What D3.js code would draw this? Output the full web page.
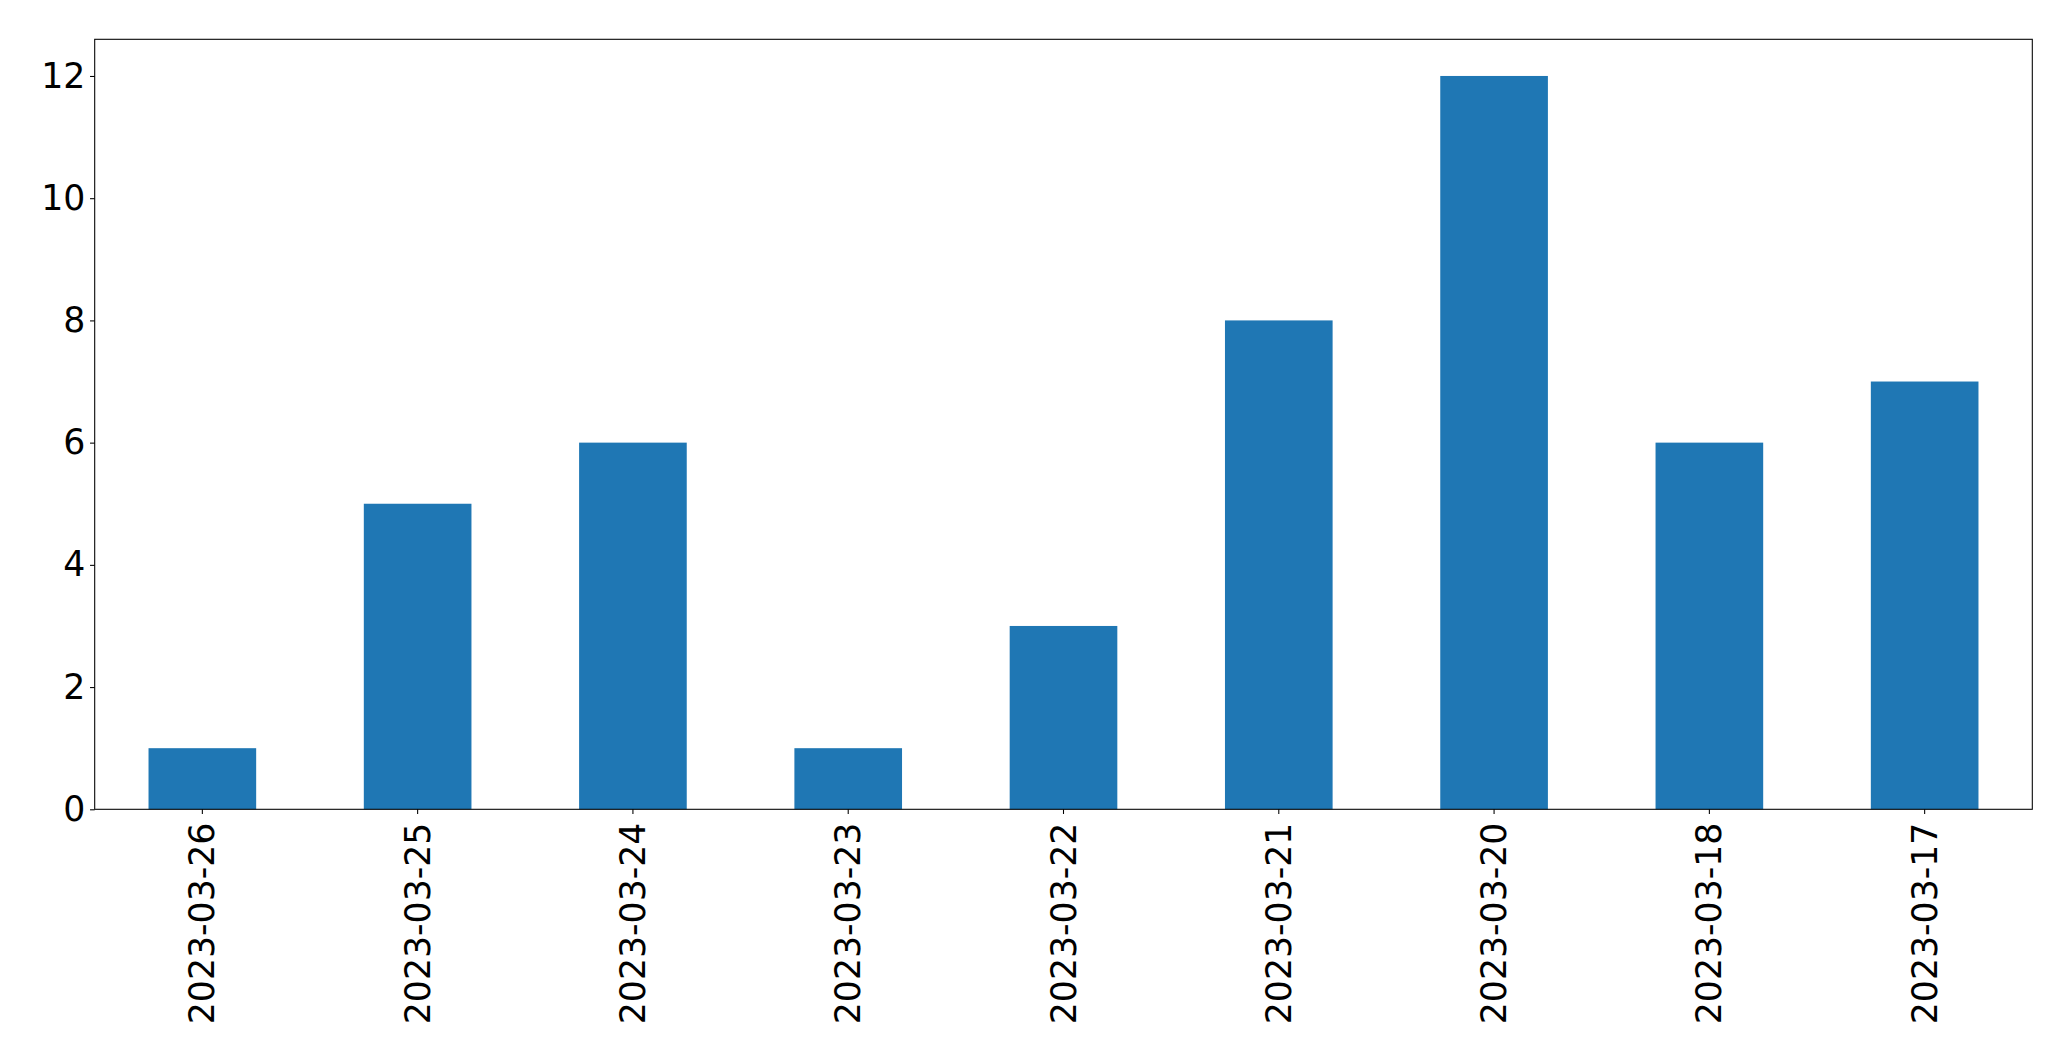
<!DOCTYPE html>
<html>
<head>
<meta charset="utf-8">
<script src="https://cdn.jsdelivr.net/npm/d3@7"></script>
<style>
  body { margin: 0; background: #fff; }
  svg { display: block; }
  text { font-family: "DejaVu Sans", sans-serif; }
</style>
</head>
<body>
<svg id="chart"></svg>
<script>
const dates = ["2023-03-26", "2023-03-25", "2023-03-24", "2023-03-23", "2023-03-22",
               "2023-03-21", "2023-03-20", "2023-03-18", "2023-03-17"];
const counts = [1, 5, 6, 1, 3, 8, 12, 6, 7];
const yTicks = [0, 2, 4, 6, 8, 10, 12];

const W = 2071, H = 1061;
const margin = { top: 39.3, right: 38.7, bottom: 251.7, left: 94.7 };
const fontSize = 34.7;
const tickLen = 4.67, tickPad = 4.67;

const svg = d3.select("#chart").attr("width", W).attr("height", H);

const x = d3.scaleBand()
    .domain(d3.range(dates.length))
    .range([margin.left, W - margin.right])
    .paddingInner(0.5)
    .paddingOuter(0.25);

const y = d3.scaleLinear()
    .domain([0, 12.6])
    .range([H - margin.bottom, margin.top]);

// bars
svg.append("g")
    .attr("fill", "#1f77b4")
    .selectAll("rect")
    .data(counts)
    .join("rect")
    .attr("x", (d, i) => x(i))
    .attr("y", d => y(d))
    .attr("width", x.bandwidth())
    .attr("height", d => y(0) - y(d));

// y axis
const yAxis = svg.append("g")
    .attr("transform", `translate(${margin.left},0)`)
    .call(d3.axisLeft(y).tickValues(yTicks).tickSize(tickLen).tickPadding(tickPad).tickSizeOuter(0));
yAxis.select(".domain").remove();
yAxis.selectAll("line").attr("stroke", "#000").attr("stroke-width", 1.07);
yAxis.selectAll("text").attr("font-size", fontSize).attr("fill", "#000")
    .style("font-family", "'DejaVu Sans', sans-serif");

// x axis, labels rotated
const xAxis = svg.append("g")
    .attr("transform", `translate(0,${H - margin.bottom})`)
    .call(d3.axisBottom(x).tickFormat(i => dates[i]).tickSize(tickLen).tickSizeOuter(0));
xAxis.select(".domain").remove();
xAxis.selectAll("line").attr("stroke", "#000").attr("stroke-width", 1.07);
xAxis.selectAll("text")
    .attr("font-size", fontSize)
    .attr("fill", "#000")
    .style("font-family", "'DejaVu Sans', sans-serif")
    .attr("text-anchor", "end")
    .attr("dy", null)
    .attr("dominant-baseline", "central")
    .attr("transform", `translate(0,${tickLen + tickPad + 4}) rotate(-90)`)
    .attr("x", 0)
    .attr("y", 0);

// frame
svg.append("rect")
    .attr("x", margin.left)
    .attr("y", margin.top)
    .attr("width", W - margin.right - margin.left)
    .attr("height", H - margin.bottom - margin.top)
    .attr("fill", "none")
    .attr("stroke", "#000")
    .attr("stroke-width", 1.07);
</script>
</body>
</html>
